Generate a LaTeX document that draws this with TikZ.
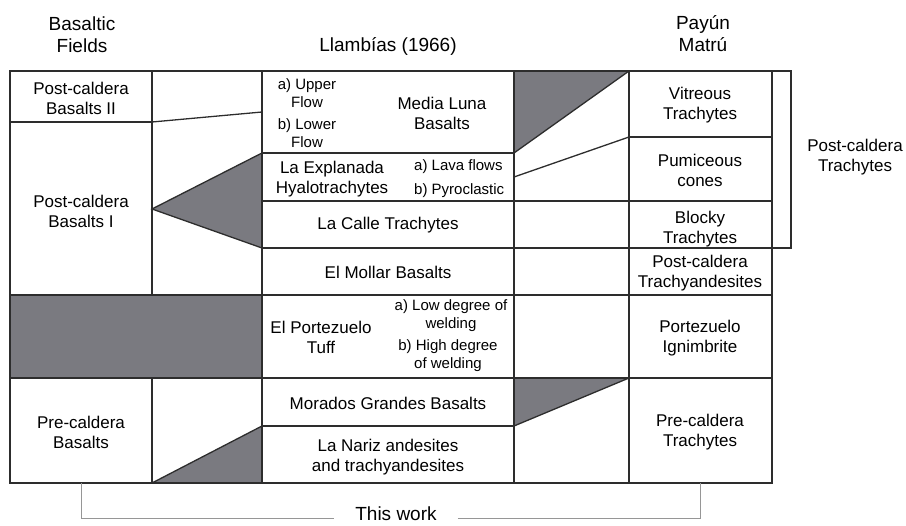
\documentclass[tikz,border=0pt]{standalone}
\usepackage{fontspec}
\setmainfont{Liberation Sans}
\definecolor{lineGray}{RGB}{45,45,45}
\definecolor{fillGray}{RGB}{122,122,128}
\definecolor{workGray}{RGB}{150,150,150}
\begin{document}
\begin{tikzpicture}
[x=1pt,y=-1pt,
  lineDecorate/.style={-,line width=1.3pt,draw=lineGray,line cap=rect},%
  fillDecorate/.style={fill=fillGray,draw=lineGray,line width=1.3pt,line join=miter},
  workDecorate/.style={-,line width=1pt,draw=workGray},
  headDecorate/.style={align=center,inner sep=0pt,font=\fontsize{19}{22}\selectfont},
  textDecorate/.style={align=center,inner sep=0pt,font=\fontsize{17}{20}\selectfont},
  smallDecorate/.style={align=center,inner sep=0pt,font=\fontsize{15}{18}\selectfont}]
\useasboundingbox (0,0) rectangle (906,526);
%% grey wedges
\filldraw[fillDecorate] (152,209) -- (262,153) -- (262,248) -- cycle;
\filldraw[fillDecorate] (514,71) -- (629,71) -- (514,153) -- cycle;
\filldraw[fillDecorate] (10,295) rectangle (262,378);
\filldraw[fillDecorate] (152,483) -- (262,426) -- (262,483) -- cycle;
\filldraw[fillDecorate] (514,378) -- (629,378) -- (514,426) -- cycle;
%% horizontal rules
\foreach \y/\xa/\xb in {
  71/10/772, 122/10/152, 137/629/772, 153/262/514, 201/262/772,
  248/262/772, 295/10/772, 378/10/772, 426/262/514, 483/10/772}
{
  \draw[lineDecorate] (\xa,\y) -- (\xb,\y);
}
%% vertical rules
\foreach \x/\ya/\yb in {
  10/71/483, 152/71/295, 152/378/483, 262/71/483,
  514/71/483, 629/71/483, 772/71/483}
{
  \draw[lineDecorate] (\x,\ya) -- (\x,\yb);
}
%% slanted contacts and bracket
\draw[lineDecorate] (152,122) -- (262,112);
\draw[lineDecorate] (514,177) -- (629,137);
\draw[lineDecorate] (772,71) -- (791,71) -- (791,248) -- (772,248);
%% headings
\foreach \nodename/\x/\y/\txt in {
  bfHead/82/35/{Basaltic\\Fields}, llHead/388/46/{Llambías (1966)},
  pmHead/703/34/{Payún\\Matrú}}
{
  \node (\nodename) at (\x,\y) [headDecorate] {\txt};
}
%% units
\foreach \nodename/\x/\y/\txt in {
  pcbTwo/81/98/{Post-caldera\\Basalts II}, pcbOne/81/211/{Post-caldera\\Basalts I},
  precBas/81/432/{Pre-caldera\\Basalts}, mediaLuna/442/113/{Media Luna\\Basalts},
  explanada/332/179/{La Explanada\\Hyalotrachytes}, laCalle/388/225/{La Calle Trachytes},
  elMollar/388/272/{El Mollar Basalts}, portTuff/321/337/{El Portezuelo\\Tuff},
  morados/388/403/{Morados Grandes Basalts},
  laNariz/388/457/{La Nariz andesites\\and trachyandesites},
  vitreous/700/105/{Vitreous\\Trachytes}, pumiceous/700/170/{Pumiceous\\cones},
  blocky/700/229/{Blocky\\Trachytes}, pcTrachyand/700/273/{Post-caldera\\Trachyandesites},
  portIgn/700/338/{Portezuelo\\Ignimbrite}, precTrach/700/432/{Pre-caldera\\Trachytes},
  pcTrach/855/157/{Post-caldera\\Trachytes}}
{
  \node (\nodename) at (\x,\y) [textDecorate] {\txt};
}
%% sub-units
\foreach \nodename/\x/\y/\txt in {
  upperFlow/307/93/{a) Upper\\Flow}, lowerFlow/307/133/{b) Lower\\Flow},
  lowDeg/451/316/{a) Low degree of\\welding}, highDeg/448/356/{b) High degree\\of welding}}
{
  \node (\nodename) at (\x,\y) [smallDecorate] {\txt};
}
\node (lavaFlows) at (414,167) [smallDecorate,anchor=west] {a) Lava flows};
\node (pyroclastic) at (414,191) [smallDecorate,anchor=west] {b) Pyroclastic};
%% this work
\coordinate (workLine) at (0,519);
\node (thisWork) at (396,514) [headDecorate,inner xsep=21pt] {This work};
\draw[workDecorate] (81,483) |- (thisWork.west |- workLine);
\draw[workDecorate] (thisWork.east |- workLine) -| (700,483);
\end{tikzpicture}
\end{document}
